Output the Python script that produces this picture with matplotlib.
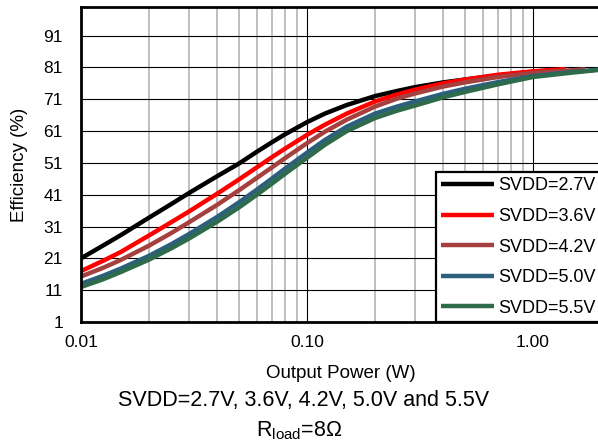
import matplotlib
matplotlib.use("Agg")
import matplotlib.pyplot as plt
from matplotlib.ticker import FixedLocator, FixedFormatter, LogLocator, NullFormatter

plt.rcParams['font.family'] = ['Liberation Sans', 'DejaVu Sans']
plt.rcParams['mathtext.fontset'] = 'custom'
plt.rcParams['mathtext.rm'] = 'Liberation Sans'
plt.rcParams['mathtext.it'] = 'Liberation Sans'

# output power (W) and efficiency (%)
power = [0.01, 0.0125, 0.015, 0.02, 0.025, 0.03, 0.04, 0.05, 0.06, 0.07, 0.08,
         0.1, 0.12, 0.15, 0.2, 0.25, 0.3, 0.4, 0.5, 0.7, 1.0]
eff_27 = [21, 25, 28.3, 33.8, 38, 41.5, 46.8, 50.8, 54.5, 57.5, 60,
          63.8, 66.5, 69.2, 72, 73.6, 74.8, 76.3, 77.2, 78.5, 79.6]
eff_36 = [17, 20.2, 23, 28.2, 32.3, 35.7, 41.3, 45.8, 49.6, 52.8, 55.5,
          59.8, 63, 66.5, 70.3, 72.5, 74, 76, 77.2, 78.7, 79.8]
eff_42 = [15.3, 18.0, 20.5, 25, 28.9, 32.3, 37.8, 42.4, 46.3, 49.6, 52.5,
          57.2, 60.8, 64.6, 68.7, 71.2, 72.8, 75, 76.3, 78, 79.3]
eff_50 = [13, 15.5, 17.8, 21.8, 25.4, 28.6, 34, 38.6, 42.6, 46.1, 49.2,
          54.2, 58.2, 62.4, 66.5, 68.7, 70.3, 72.7, 74.3, 76.4, 78.3]
eff_55 = [12, 14.4, 16.7, 20.6, 24.1, 27.2, 32.5, 37.0, 41, 44.5, 47.6,
          52.6, 56.7, 61.0, 65.1, 67.4, 69.0, 71.6, 73.3, 75.7, 78.0]

# tails past 1 W (curves stop at different max power)
tail_power = {'2.7': [1.3], '3.6': [1.4], '4.2': [1.7], '5.0': [1.5, 2.0], '5.5': [1.5, 2.0]}
tail_eff = {'2.7': [80.3], '3.6': [80.5], '4.2': [80.4], '5.0': [79.6, 80.4], '5.5': [79.4, 80.3]}

labels = ['2.7', '3.6', '4.2', '5.0', '5.5']
series = [eff_27, eff_36, eff_42, eff_50, eff_55]
colors = ['#000000', '#FF0000', '#A5403F', '#2C5F7C', '#2E6B4A']

y_ticks = [1, 11, 21, 31, 41, 51, 61, 71, 81, 91]
x_ticks = [0.01, 0.1, 1.0]
x_tick_labels = ['0.01', '0.10', '1.00']

fig = plt.figure(figsize=(5.98, 4.44), dpi=100)
ax = fig.add_axes([81 / 598, 1 - 322 / 444, 520 / 598, 315 / 444])

for lab, eff, col in zip(labels, series, colors):
    ax.plot(power + tail_power[lab], eff + tail_eff[lab], color=col, lw=3.2,
            solid_capstyle='butt', solid_joinstyle='round', label='SVDD=' + lab + 'V')

ax.set_xscale('log')
ax.set_xlim(0.01, 2.0)
ax.set_ylim(1, 100)
ax.xaxis.set_major_locator(FixedLocator(x_ticks))
ax.xaxis.set_major_formatter(FixedFormatter(x_tick_labels))
ax.xaxis.set_minor_locator(LogLocator(base=10, subs=range(2, 10)))
ax.xaxis.set_minor_formatter(NullFormatter())
ax.set_yticks(y_ticks)

ax.set_axisbelow(True)
ax.grid(which='minor', axis='x', color='#BFBFBF', lw=1.4)
ax.grid(which='major', axis='x', color='#000000', lw=0.8)
ax.grid(which='major', axis='y', color='#000000', lw=0.8)

ax.tick_params(which='both', length=0, labelsize=12.5)
ax.tick_params(axis='x', pad=9)
ax.tick_params(axis='y', pad=13)
for sp in ax.spines.values():
    sp.set_linewidth(2)

ax.set_xlabel('Output Power (W)', fontsize=13.5, labelpad=11)
ax.set_ylabel('Efficiency (%)', fontsize=13.5, labelpad=11)

leg = ax.legend(loc='lower right', bbox_to_anchor=(1.0, 0.0), fontsize=13,
                frameon=True, fancybox=False, edgecolor='black', framealpha=1,
                borderaxespad=0, handlelength=2.9, handletextpad=0.25,
                labelspacing=0.75, borderpad=0.3)
leg.get_frame().set_linewidth(1.6)

fig.text(304 / 598, 1 - 400 / 444, 'SVDD=2.7V, 3.6V, 4.2V, 5.0V and 5.5V', ha='center', va='center', fontsize=15.5)
fig.text(0.5, 1 - 431 / 444, r'R$_{\mathrm{load}}$=8Ω', ha='center', va='center', fontsize=15.5)

fig.savefig('out.png', dpi=100)
